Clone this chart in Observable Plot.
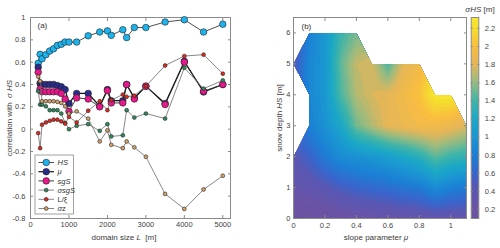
<!DOCTYPE html>
<html><head><meta charset="utf-8">
<script src="https://cdn.jsdelivr.net/npm/d3@7"></script>
<script src="https://cdn.jsdelivr.net/npm/@observablehq/plot@0.6"></script>
<style>
body{margin:0;background:#fff;}
#wrap{position:relative;width:500px;height:248px;overflow:hidden;font-family:"Liberation Sans",Arial,sans-serif;}
#wrap > svg{position:absolute;top:0;}
.lbl{position:absolute;font-size:8px;color:#3a3a3a;white-space:nowrap;line-height:1;}
</style></head><body><div id="wrap"></div>
<script>
// ---------- panel (a) data ----------
const domainSize = [200, 250, 300, 400, 500, 600, 700, 800, 900, 1000, 1200, 1500, 1800, 2000, 2100, 2400, 2500, 2700, 3000, 3500, 4000, 4500, 5000];
const corrHS = [0.59, 0.67, 0.63, 0.667, 0.70, 0.72, 0.75, 0.76, 0.78, 0.78, 0.78, 0.836, 0.87, 0.88, 0.84, 0.89, 0.82, 0.91, 0.91, 0.96, 0.98, 0.87, 0.94];
const corrMu = [0.555, 0.41, 0.40, 0.40, 0.40, 0.40, 0.39, 0.38, 0.355, 0.23, 0.32, 0.32, 0.205, 0.355, 0.255, 0.255, 0.40, 0.28, 0.385, 0.23, 0.607, 0.333, 0.40];
const corrSgS = [0.51, 0.36, 0.335, 0.335, 0.335, 0.335, 0.335, 0.32, 0.27, 0.16, 0.28, 0.27, 0.20, 0.345, 0.235, 0.235, 0.40, 0.27, 0.385, 0.22, 0.60, 0.34, 0.40];
const corrSigmaSgS = [0.34, 0.22, 0.22, 0.205, 0.17, 0.17, 0.17, 0.14, 0.056, 0.0, 0.03, 0.045, -0.015, 0.045, -0.065, -0.055, 0.17, 0.104, 0.14, 0.095, 0.55, 0.363, 0.437];
const corrLXi = [-0.035, -0.17, 0.04, 0.06, 0.075, 0.085, 0.085, 0.07, 0.05, 0.11, 0.06, 0.165, 0.25, 0.17, 0.26, 0.31, 0.29, 0.30, 0.385, 0.57, 0.655, 0.667, 0.497];
const corrSigmaZ = [0.47, 0.43, 0.25, 0.25, 0.25, 0.25, 0.245, 0.235, 0.205, 0.14, 0.16, 0.095, -0.11, -0.01, -0.14, -0.17, -0.11, -0.163, -0.247, -0.58, -0.714, -0.54, -0.417];
const seriesNames = ["HS", "μ", "sgS", "σsgS", "L/ξ", "σz"];
const xTicksA = [0, 1000, 2000, 3000, 4000, 5000];
const yTicksA = [-0.8, -0.6, -0.4, -0.2, 0, 0.2, 0.4, 0.6, 0.8, 1];

// ---------- panel (b) data ----------
const slopeMu = [0, 0.1, 0.2, 0.3, 0.4, 0.5, 0.6, 0.7, 0.8, 0.9, 1.0, 1.1];
const snowDepth = [0, 1, 2, 3, 4, 5, 6];
// rows: snow depth 0..6 (bottom to top), columns: slope parameter 0..1.1
const sigmaHS = [
  [0.12, 0.15, 0.18, 0.22, 0.25, 0.27, 0.30, 0.32, 0.33, 0.36, 0.36, 0.36],
  [0.33, 0.38, 0.45, 0.55, 0.62, 0.66, 0.70, 0.75, 0.80, 0.95, 0.85, 0.80],
  [0.45, 0.60, 0.80, 0.95, 1.00, 1.05, 1.12, 1.22, 1.32, 1.50, 1.40, 1.35],
  [NaN, 0.85, 1.00, 1.20, 1.55, 1.70, 1.85, 1.90, 1.95, 1.95, 1.90, 1.80],
  [NaN, 0.90, 1.05, 1.45, 1.70, 1.80, 1.85, 1.95, 2.05, 2.30, 2.30, NaN],
  [0.50, 0.90, 1.05, 1.50, 1.75, 1.80, 1.45, 1.85, 1.95, NaN, NaN, NaN],
  [NaN, 0.85, 1.05, 1.40, 1.55, NaN, NaN, NaN, NaN, NaN, NaN, NaN]
];
const xTicksB = [0, 0.2, 0.4, 0.6, 0.8, 1];
const yTicksB = [0, 1, 2, 3, 4, 5, 6];
const colorbarDomain = [0.1, 2.32];
const colorbarTicks = [0.2, 0.4, 0.6, 0.8, 1, 1.2, 1.4, 1.6, 1.8, 2, 2.2];

// ---------- styles ----------
const FONT = "Liberation Sans, Arial, sans-serif";
const seriesFill = ["#1db4ee", "#2a2c8a", "#e8178a", "#2c8c5c", "#e2281e", "#d4a16a"];
const seriesLine = ["#3a3a3a", "#111111", "#2a2a2a", "#6a6a6a", "#6a6a6a", "#6a6a6a"];
const seriesLineW = [0.9, 1.2, 0.9, 0.8, 0.8, 0.8];
const seriesR = [3.3, 3.3, 3.3, 1.9, 1.9, 1.9];
// colour map (as seen in the reference colour bar)
const cmapAt = [0.1, 0.25, 0.45, 0.6, 0.8, 1.0, 1.2, 1.4, 1.6, 1.8, 2.0, 2.2, 2.32];
const cmapColor = ["#6b52a0", "#6a54a6", "#5858b4", "#3866cc", "#1c7ed4", "#1a95d2", "#1ba8c6", "#3fb4a8", "#94bb82", "#e3b65a", "#f9bd40", "#f5df2e", "#f7ea30"];
const fmt = d => String(Math.round(d * 10) / 10);
const frameColor = "#8a8a8a";

const wrap = document.getElementById("wrap");

// ---------- panel (a) ----------
const seriesValues = [corrHS, corrMu, corrSgS, corrSigmaSgS, corrLXi, corrSigmaZ];
const rows = seriesValues.flatMap((vals, k) => vals.map((r, i) => ({L: domainSize[i], r, k})));
const marksA = [];
seriesNames.forEach((name, k) => {
  const d = rows.filter(o => o.k === k);
  marksA.push(Plot.line(d, {x: "L", y: "r", stroke: seriesLine[k], strokeWidth: seriesLineW[k]}));
  marksA.push(Plot.dot(d, {x: "L", y: "r", r: seriesR[k], fill: seriesFill[k], stroke: "#222", strokeWidth: 0.6}));
});
const plotA = Plot.plot({
  width: 250, height: 248,
  marginLeft: 30, marginRight: 20, marginTop: 17, marginBottom: 30,
  style: {fontFamily: FONT, fontSize: "7.5px", color: "#444", background: "transparent"},
  x: {domain: [0, 5200]},
  y: {domain: [-0.8, 1]},
  marks: [
    Plot.frame({stroke: frameColor}),
    Plot.axisX(xTicksA, {anchor: "bottom", tickSize: -3, tickPadding: 6, tickFormat: d => String(d), label: null, stroke: frameColor}),
    Plot.axisX(xTicksA, {anchor: "top", tickSize: -3, tickFormat: () => "", label: null, stroke: frameColor}),
    Plot.axisY(yTicksA, {anchor: "left", tickSize: -3, tickPadding: 8, tickFormat: fmt, label: null, stroke: frameColor}),
    Plot.axisY(yTicksA, {anchor: "right", tickSize: -3, tickFormat: () => "", label: null, stroke: frameColor}),
    ...marksA,
    Plot.text(["(a)"], {text: d => d, frameAnchor: "top-left", dx: 7, dy: 5, lineAnchor: "top", fontSize: 8, fill: "#333"})
  ]
});
plotA.style.left = "0px";
wrap.appendChild(plotA);

// ---------- panel (b) ----------
function fieldValue(x, y) {
  const nx = slopeMu.length, ny = snowDepth.length;
  if (x < slopeMu[0] || x > slopeMu[nx - 1] || y < snowDepth[0] || y > snowDepth[ny - 1]) return NaN;
  const i = Math.max(0, Math.min(d3.bisectRight(slopeMu, x) - 1, nx - 2));
  const j = Math.max(0, Math.min(d3.bisectRight(snowDepth, y) - 1, ny - 2));
  const u = (x - slopeMu[i]) / (slopeMu[i + 1] - slopeMu[i]);
  const v = (y - snowDepth[j]) / (snowDepth[j + 1] - snowDepth[j]);
  const a = sigmaHS[j][i], b = sigmaHS[j][i + 1], c = sigmaHS[j + 1][i], d = sigmaHS[j + 1][i + 1];
  const na = isNaN(a), nb = isNaN(b), nc = isNaN(c), nd = isNaN(d);
  const n = na + nb + nc + nd;
  if (n === 0) return a * (1 - u) * (1 - v) + b * u * (1 - v) + c * (1 - u) * v + d * u * v;
  if (n > 1) return NaN;
  if (nd) return u + v <= 1 ? a + (b - a) * u + (c - a) * v : NaN;
  if (nc) return v <= u ? a + (b - a) * u + (d - b) * v : NaN;
  if (nb) return v >= u ? a + (d - c) * u + (c - a) * v : NaN;
  return u + v >= 1 ? d + (c - d) * (1 - u) + (b - d) * (1 - v) : NaN;
}
const colorOpts = () => ({type: "linear", domain: cmapAt.slice(), range: cmapColor.slice(), interpolate: "rgb", clamp: true});
const thresholds = d3.range(0.1, 2.34, 0.05);
const plotB = Plot.plot({
  width: 250, height: 248,
  marginLeft: 43, marginRight: 34, marginTop: 17, marginBottom: 30,
  style: {fontFamily: FONT, fontSize: "7.5px", color: "#444", background: "transparent"},
  x: {domain: [0, 1.1]},
  y: {domain: [0, 6.5]},
  color: colorOpts(),
  marks: [
    Plot.contour({value: fieldValue, fill: "value", x1: slopeMu[0], x2: slopeMu[slopeMu.length - 1], y1: snowDepth[0], y2: snowDepth[snowDepth.length - 1], thresholds, pixelSize: 0.5, stroke: "none"}),
    Plot.frame({stroke: frameColor}),
    Plot.axisX(xTicksB, {anchor: "bottom", tickSize: -3, tickPadding: 7, tickFormat: fmt, label: null, stroke: frameColor}),
    Plot.axisX(xTicksB, {anchor: "top", tickSize: -3, tickFormat: () => "", label: null, stroke: frameColor}),
    Plot.axisY(yTicksB, {anchor: "left", tickSize: -3, tickPadding: 6, tickFormat: fmt, label: null, stroke: frameColor}),
    Plot.axisY(yTicksB, {anchor: "right", tickSize: -3, tickFormat: () => "", label: null, stroke: frameColor}),
    Plot.text(["(b)"], {text: d => d, frameAnchor: "top-left", dx: 8, dy: 6, lineAnchor: "top", fontSize: 8, fill: "#333"})
  ]
});
plotB.style.left = "250px";
wrap.appendChild(plotB);

// ---------- colorbar ----------
const plotC = Plot.plot({
  width: 40, height: 248,
  marginLeft: 10.7, marginRight: 21.7, marginTop: 17, marginBottom: 30,
  style: {fontFamily: FONT, fontSize: "7.5px", color: "#444", background: "transparent"},
  x: {domain: [0, 1], axis: null},
  y: {domain: colorbarDomain},
  color: colorOpts(),
  marks: [
    Plot.raster({x1: 0, x2: 1, y1: colorbarDomain[0], y2: colorbarDomain[1], fill: (x, y) => y, pixelSize: 1}),
    Plot.frame({stroke: frameColor}),
    Plot.axisY(colorbarTicks, {anchor: "right", tickSize: -2, tickPadding: 8, tickFormat: fmt, label: null, stroke: frameColor}),
    Plot.axisY(colorbarTicks, {anchor: "left", tickSize: -2, tickFormat: () => "", label: null, stroke: frameColor})
  ]
});
plotC.style.left = "460px";
wrap.appendChild(plotC);

// ---------- labels ----------
function label(html, cx, cy, rot) {
  const el = document.createElement("div");
  el.className = "lbl";
  el.innerHTML = html;
  el.style.left = cx + "px";
  el.style.top = cy + "px";
  el.style.transform = "translate(-50%,-50%)" + (rot ? " rotate(" + rot + "deg)" : "");
  wrap.appendChild(el);
}
label("correlation with &nbsp;<i>σ HS</i>", 10, 117.5, -90);
label("domain size <i>L</i> &nbsp;[m]", 124, 237.5, 0);
label("snow depth <i>HS</i> [m]", 280, 117.5, -90);
label("slope parameter <i>μ</i>", 376, 238, 0);
label("<i>σHS</i> [m]", 480, 10, 0);

// ---------- legend for panel (a) ----------
const leg = d3.create("svg").attr("width", 500).attr("height", 248)
  .style("position", "absolute").style("left", "0px").style("top", "0px").style("pointer-events", "none")
  .style("font-family", FONT).style("font-size", "7.5px");
leg.append("rect").attr("x", 35).attr("y", 155).attr("width", 38.5).attr("height", 59)
  .attr("fill", "#fff").attr("stroke", frameColor).attr("stroke-width", 0.8);
const legendLabels = [
  [["HS", true]], [["μ", true]], [["sgS", true]], [["σ", true], ["sgS", true]], [["L/ξ", false]], [["σ", true], ["z", false]]
];
seriesNames.forEach((name, k) => {
  const y = 162.5 + k * 9.2;
  leg.append("line").attr("x1", 38.5).attr("x2", 54).attr("y1", y).attr("y2", y)
    .attr("stroke", seriesLine[k]).attr("stroke-width", seriesLineW[k]);
  leg.append("circle").attr("cx", 46.2).attr("cy", y).attr("r", seriesR[k])
    .attr("fill", seriesFill[k]).attr("stroke", "#222").attr("stroke-width", 0.6);
  const t = leg.append("text").attr("x", 57.5).attr("y", y).attr("dy", "0.35em").attr("fill", "#333");
  legendLabels[k].forEach(([s, it]) => t.append("tspan").text(s).attr("font-style", it ? "italic" : "normal"));
});
wrap.appendChild(leg.node());
</script>
</body></html>
